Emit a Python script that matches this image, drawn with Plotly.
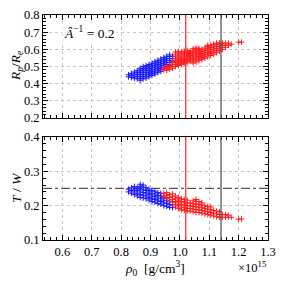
import plotly.graph_objects as go

# ---- data (rho0 in units of 1e15 g/cm^3) ----
blue_x = [0.825, 0.835, 0.845, 0.855, 0.865, 0.875, 0.885, 0.895, 0.905, 0.915,
          0.925, 0.935, 0.945, 0.955, 0.965, 0.975]
blue_rp = [
    [0.440, 0.452],
    [0.436, 0.448, 0.460],
    [0.432, 0.444, 0.456, 0.468],
    [0.428, 0.440, 0.452, 0.464, 0.476],
    [0.420, 0.432, 0.444, 0.456, 0.468, 0.480, 0.490],
    [0.428, 0.440, 0.452, 0.464, 0.476, 0.488, 0.500],
    [0.432, 0.444, 0.456, 0.468, 0.480, 0.492, 0.505],
    [0.440, 0.452, 0.464, 0.476, 0.488, 0.500, 0.512],
    [0.448, 0.460, 0.472, 0.484, 0.496, 0.508, 0.520],
    [0.456, 0.468, 0.480, 0.492, 0.504, 0.516, 0.528],
    [0.464, 0.476, 0.488, 0.500, 0.512, 0.524, 0.536],
    [0.472, 0.484, 0.496, 0.508, 0.520, 0.532, 0.544],
    [0.492, 0.504, 0.516, 0.528, 0.540, 0.552],
    [0.500, 0.512, 0.524, 0.536, 0.548, 0.560],
    [0.510, 0.522, 0.534, 0.546, 0.558, 0.568],
    [0.530, 0.545, 0.560],
]
blue_tw = [
    [0.240, 0.248],
    [0.236, 0.244, 0.252],
    [0.232, 0.240, 0.248, 0.256],
    [0.228, 0.236, 0.244, 0.252],
    [0.224, 0.232, 0.240, 0.248, 0.256, 0.262],
    [0.222, 0.230, 0.238, 0.246, 0.254, 0.260],
    [0.220, 0.228, 0.236, 0.244, 0.252],
    [0.216, 0.224, 0.232, 0.240, 0.248],
    [0.212, 0.220, 0.228, 0.236, 0.244],
    [0.210, 0.218, 0.226, 0.234, 0.242],
    [0.206, 0.214, 0.222, 0.230, 0.238],
    [0.204, 0.212, 0.220, 0.228, 0.236],
    [0.200, 0.208, 0.216, 0.224],
    [0.198, 0.206, 0.214, 0.222],
    [0.195, 0.203, 0.211],
    [0.194, 0.202],
]

red_x = [0.945, 0.955, 0.965, 0.975, 0.985, 0.995, 1.005, 1.015, 1.025, 1.035,
         1.045, 1.055, 1.065, 1.075, 1.085, 1.095, 1.105, 1.115, 1.125, 1.135,
         1.145, 1.155, 1.165, 1.175, 1.200, 1.210]
red_rp = [
    [0.480, 0.490],
    [0.478, 0.488, 0.498],
    [0.484, 0.496, 0.506],
    [0.490, 0.502, 0.514, 0.526],
    [0.500, 0.512, 0.524, 0.536, 0.548, 0.560, 0.572, 0.584],
    [0.506, 0.518, 0.530, 0.542, 0.554, 0.566, 0.578, 0.588],
    [0.512, 0.524, 0.536, 0.548, 0.560, 0.572, 0.584],
    [0.518, 0.530, 0.542, 0.554, 0.566, 0.578, 0.590],
    [0.522, 0.534, 0.546, 0.558, 0.570, 0.582, 0.594],
    [0.528, 0.540, 0.552, 0.564, 0.576, 0.588],
    [0.520, 0.532, 0.544, 0.556, 0.568, 0.580, 0.592, 0.604],
    [0.526, 0.538, 0.550, 0.562, 0.574, 0.586, 0.598, 0.608],
    [0.534, 0.546, 0.558, 0.570, 0.582, 0.594, 0.606],
    [0.540, 0.552, 0.564, 0.576, 0.588, 0.600],
    [0.548, 0.560, 0.572, 0.584, 0.596, 0.608],
    [0.556, 0.568, 0.580, 0.592, 0.604, 0.616, 0.624],
    [0.564, 0.576, 0.588, 0.600, 0.612, 0.624],
    [0.572, 0.584, 0.596, 0.608, 0.620, 0.630],
    [0.580, 0.592, 0.604, 0.616, 0.628, 0.636],
    [0.590, 0.602, 0.614, 0.626, 0.638],
    [0.600, 0.612, 0.624, 0.636],
    [0.612, 0.624, 0.636],
    [0.624, 0.636],
    [0.630],
    [0.642],
    [0.642],
]
red_tw = [
    [0.228, 0.236],
    [0.222, 0.230, 0.238],
    [0.216, 0.224, 0.232],
    [0.210, 0.218, 0.226, 0.234],
    [0.196, 0.204, 0.212, 0.220, 0.228],
    [0.192, 0.200, 0.208, 0.216, 0.224],
    [0.188, 0.196, 0.204, 0.212, 0.220],
    [0.186, 0.194, 0.202, 0.210, 0.218],
    [0.184, 0.192, 0.200, 0.208, 0.216],
    [0.184, 0.192, 0.200, 0.208],
    [0.182, 0.190, 0.198, 0.206, 0.214],
    [0.180, 0.188, 0.196, 0.204, 0.212, 0.218],
    [0.180, 0.188, 0.196, 0.204, 0.212],
    [0.178, 0.186, 0.194, 0.202, 0.208],
    [0.176, 0.184, 0.192, 0.200],
    [0.174, 0.182, 0.190, 0.198],
    [0.172, 0.180, 0.188, 0.196],
    [0.170, 0.178, 0.186],
    [0.168, 0.176, 0.184],
    [0.166, 0.174, 0.182],
    [0.166, 0.174],
    [0.166, 0.174],
    [0.166, 0.172],
    [0.166],
    [0.161],
    [0.161],
]

rho_red_line = 1.02
rho_black_line = 1.14
tw_ref = 0.25

x_ticks = [0.6, 0.7, 0.8, 0.9, 1.0, 1.1, 1.2, 1.3]
x_ticklabels = ["0.6", "0.7", "0.8", "0.9", "1.0", "1.1", "1.2", "1.3"]
rp_ticks = [0.2, 0.3, 0.4, 0.5, 0.6, 0.7, 0.8]
tw_ticks = [0.1, 0.2, 0.3, 0.4]


def flatten(xs, cols):
    fx, fy = [], []
    for x, col in zip(xs, cols):
        for y in col:
            fx.append(x)
            fy.append(y)
    return fx, fy


FONT = "Liberation Serif"
BLUE = "#1a1aff"
RED = "#ff1a1a"

W, H = 283, 283
ML, MR, MT, MB = 43, 15, 15, 43

fig = go.Figure()


def add_series(xs, cols, color, yaxis):
    fx, fy = flatten(xs, cols)
    fig.add_trace(go.Scatter(
        x=fx, y=fy, mode="markers", xaxis="x" if yaxis == "y" else "x2", yaxis=yaxis,
        marker=dict(symbol="cross-thin", size=4, color=color,
                    line=dict(width=1, color=color)),
        showlegend=False, hoverinfo="skip"))


add_series(blue_x, blue_rp, BLUE, "y")
add_series(red_x, red_rp, RED, "y")
add_series(blue_x, blue_tw, BLUE, "y2")
add_series(red_x, red_tw, RED, "y2")

axis_common = dict(
    showline=True, linecolor="black", linewidth=1, mirror="ticks",
    ticks="inside", ticklen=5, tickwidth=1, tickcolor="black",
    showgrid=True, gridcolor="#c4c4c4", griddash="dot", gridwidth=1,
    zeroline=False, automargin=False,
    tickfont=dict(family=FONT, size=12.5, color="black"),
    minor=dict(ticks="inside", ticklen=3, tickcolor="black", dtick=0.02, showgrid=False),
)

xr = [0.534, 1.3]
fig.update_layout(
    width=W, height=H,
    margin=dict(l=ML, r=MR, t=MT, b=MB, autoexpand=False),
    paper_bgcolor="white", plot_bgcolor="white",
    xaxis=dict(domain=[0, 1], range=xr, anchor="y", tickvals=x_ticks,
               showticklabels=False, **axis_common),
    yaxis=dict(domain=[0.542, 1], range=[0.2, 0.8], anchor="x", tickvals=rp_ticks,
               **axis_common),
    xaxis2=dict(domain=[0, 1], range=xr, anchor="y2", tickvals=x_ticks,
                ticktext=x_ticklabels, **axis_common),
    yaxis2=dict(domain=[0, 0.458], range=[0.1, 0.4], anchor="x2", tickvals=tw_ticks,
                **axis_common),
)

# vertical reference lines in both panels
for xref, yref in [("x", "y domain"), ("x2", "y2 domain")]:
    fig.add_shape(type="line", xref=xref, yref=yref, x0=rho_red_line, x1=rho_red_line,
                  y0=0, y1=1, line=dict(color="#ff3333", width=1.3), layer="above")
    fig.add_shape(type="line", xref=xref, yref=yref, x0=rho_black_line, x1=rho_black_line,
                  y0=0, y1=1, line=dict(color="#555555", width=1.3), layer="above")

# horizontal T/W reference
fig.add_shape(type="line", xref="x2 domain", yref="y2", x0=0, x1=1, y0=tw_ref, y1=tw_ref,
              line=dict(color="#555555", width=1.2, dash="dashdot"), layer="below")


def px_to_paper(px, py):
    return (px - ML) / (W - ML - MR), 1 - (py - MT) / (H - MT - MB)


# axis titles as annotations (exact placement)
tx, ty = px_to_paper(16, 66)
fig.add_annotation(x=tx, y=ty, xref="paper", yref="paper", textangle=-90,
                   text="<i>R<sub>p</sub></i>/<i>R<sub>e</sub></i>", showarrow=False,
                   xanchor="center", yanchor="middle",
                   font=dict(family=FONT, size=13.5, color="black"))
tx, ty = px_to_paper(16, 188)
fig.add_annotation(x=tx, y=ty, xref="paper", yref="paper", textangle=-90,
                   text="<i>T</i> / <i>W</i>", showarrow=False,
                   xanchor="center", yanchor="middle",
                   font=dict(family=FONT, size=13.5, color="black"))
tx, ty = px_to_paper(155, 268)
fig.add_annotation(x=tx, y=ty, xref="paper", yref="paper",
                   text="<i>ρ</i><sub>0</sub>  [g/cm<sup>3</sup>]", showarrow=False,
                   xanchor="center", yanchor="middle",
                   font=dict(family=FONT, size=13.5, color="black"))
tx, ty = px_to_paper(269, 267)
fig.add_annotation(x=tx, y=ty, xref="paper", yref="paper",
                   text="×10<sup>15</sup>", showarrow=False,
                   xanchor="right", yanchor="middle",
                   font=dict(family=FONT, size=12.5, color="black"))

fig.add_annotation(x=0.6, y=0.7, xref="x", yref="y", xanchor="left", yanchor="middle",
                   text="<i>Â</i><sup>−1</sup> = 0.2", showarrow=False,
                   font=dict(family=FONT, size=13.5, color="black"), bgcolor="white")

fig.write_html("out.html", config={"displayModeBar": False},
               post_script="document.body.style.margin='0';document.body.style.padding='0';")
